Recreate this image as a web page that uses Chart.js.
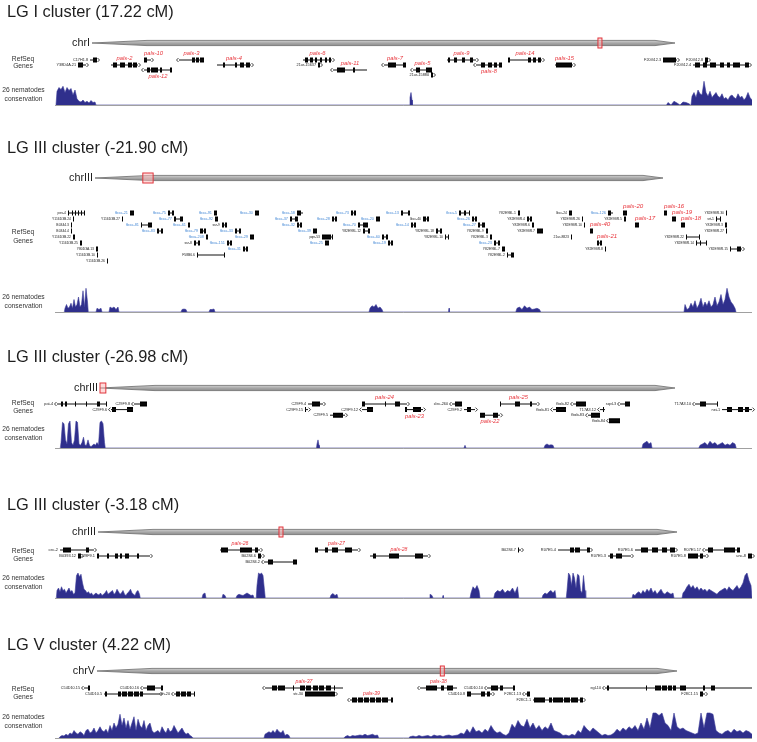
<!DOCTYPE html>
<html>
<head>
<meta charset="utf-8">
<script src="https://cdn.jsdelivr.net/npm/chart.js"></script>
<style>
  body { margin: 0; background: #fff; width: 757px; height: 742px; position: relative; overflow: hidden; }
  canvas { position: absolute; left: 0; }
</style>
</head>
<body>
<canvas id="c0"></canvas>
<canvas id="c1"></canvas>
<canvas id="c2"></canvas>
<canvas id="c3"></canvas>
<canvas id="c4"></canvas>
<script>
// ---- data ----
const panelTitles = ['LG I cluster (17.22 cM)', 'LG III cluster (-21.90 cM)', 'LG III cluster (-26.98 cM)',
                     'LG III cluster (-3.18 cM)', 'LG V cluster (4.22 cM)'];
const chromNames = ['chrI', 'chrIII', 'chrIII', 'chrIII', 'chrV'];
const chromLengthsMb = [15.07, 13.78, 13.78, 13.78, 20.92];
const regionStartMb = [13.08, 1.16, 0.0, 4.31, 12.41];
const regionEndMb = [13.18, 1.41, 0.14, 4.40, 12.50];
const viewRange = [0, 697];

// gene: [name, row, start, end, exons(start,end,...), kind, strand]
// kind: k = gene, f = F-box gene, p = pals gene (label above), q = pals gene (label below)
const p1Genes = [
  ['C17H1.8', 0, 35, 42, [38, 42], 'k', '+'],
  ['Y38D4A.21', 1, 23, 31, [23, 28], 'k', '+'],
  ['pals-2', 1, 56, 83, [58, 62, 65, 70, 73, 77, 78, 82], 'p', '+'],
  ['pals-10', 0, 89, 96, [89, 92], 'p', '+'],
  ['pals-12', 2, 89, 117, [92, 95, 96, 103, 105, 107, 115, 117], 'q', '-'],
  ['pals-3', 0, 124, 149, [137, 140, 141, 144, 145, 149], 'p', '-'],
  ['pals-4', 1, 162, 196, [168, 170, 180, 182, 185, 189, 191, 195], 'p', '+'],
  ['pals-6', 0, 248, 277, [250, 253, 255, 258, 260, 262, 265, 267, 270, 272, 274, 276], 'p', '+'],
  ['21ur-15637', 1, 263, 265, [263, 265], 'k', '+'],
  ['pals-11', 2, 278, 312, [282, 290, 298, 300], 'p', '-'],
  ['pals-7', 1, 329, 351, [333, 341, 348, 351], 'p', '-'],
  ['pals-5', 2, 358, 377, [361, 365, 371, 377], 'p', '-'],
  ['21ur-15880', 3, 376, 378, [376, 378], 'k', '+'],
  ['pals-9', 0, 392, 421, [393, 395, 399, 402, 407, 410, 415, 418], 'p', '+'],
  ['pals-8', 1, 421, 447, [426, 430, 433, 437, 439, 442, 444, 447], 'q', '-'],
  ['pals-14', 0, 453, 487, [453, 455, 473, 476, 478, 481, 483, 486], 'p', '+'],
  ['pals-15', 1, 500, 518, [501, 517], 'p', '+'],
  ['F20G12.3', 0, 608, 622, [608, 621], 'k', '+'],
  ['F20G12.8', 0, 650, 653, [650, 653], 'k', '+'],
  ['F20G12.4', 1, 638, 694, [640, 645, 648, 652, 655, 661, 665, 669, 672, 675, 678, 685, 690, 694], 'k', '+']
];

const p2Genes = [
  ['pes-4', 0, 13, 30, [13, 14, 17, 18, 20, 21, 23, 24, 26, 27, 29, 30], 'k'],
  ['fbxa-21', 0, 75, 79, [75, 79], 'f'],
  ['fbxa-75', 0, 113, 119, [113, 115, 117, 119], 'f'],
  ['fbxa-91', 0, 159, 162, [159, 162], 'f'],
  ['fbxa-30', 0, 200, 204, [200, 204], 'f'],
  ['fbxa-58', 0, 242, 248, [242, 246], 'f'],
  ['fbxa-73', 0, 296, 301, [296, 298, 299, 301], 'f'],
  ['fbxa-13', 0, 346, 355, [346, 348, 353, 355], 'f'],
  ['fbxa-5', 0, 404, 415, [404, 406, 409, 411, 414, 415], 'f'],
  ['Y82E9BL.1', 0, 463, 465, [463, 465], 'k'],
  ['lbcc-24', 0, 514, 517, [514, 517], 'k'],
  ['fbxa-126', 0, 553, 558, [553, 556], 'f'],
  ['pals-20', 0, 568, 572, [568, 572], 'p'],
  ['pals-16', 0, 609, 612, [609, 612], 'p'],
  ['Y82E9BR.30', 0, 671, 672, [671, 672], 'k'],
  ['Y116D3B.24', 1, 18, 19, [18, 19], 'k'],
  ['Y116D3B.27', 1, 67, 68, [67, 68], 'k'],
  ['fbxa-77', 1, 119, 128, [119, 121, 125, 128], 'f'],
  ['fbxa-92', 1, 160, 163, [160, 163], 'f'],
  ['fbxa-37', 1, 235, 243, [235, 237, 240, 243], 'f'],
  ['fbxa-28', 1, 277, 282, [277, 279, 280, 282], 'f'],
  ['fbxa-20', 1, 321, 325, [321, 325], 'f'],
  ['lbcc-40', 1, 368, 374, [368, 371, 372, 374], 'k'],
  ['fbxa-26', 1, 417, 422, [417, 419, 420, 422], 'f'],
  ['Y82E9BR.4', 1, 472, 477, [472, 474, 475, 477], 'k'],
  ['Y82E9BR.26', 1, 527, 528, [527, 528], 'k'],
  ['Y82E9BR.5', 1, 569, 571, [569, 571], 'k'],
  ['pals-19', 1, 617, 621, [617, 621], 'p'],
  ['srt-1', 1, 661, 666, [661, 662, 665, 666], 'k'],
  ['B0344.3', 2, 16, 17, [16, 17], 'k'],
  ['fbxa-81', 2, 86, 97, [86, 87, 93, 97], 'f'],
  ['fbxa-61', 2, 133, 135, [133, 135], 'f'],
  ['srz-9', 2, 167, 172, [167, 169, 170, 172], 'k'],
  ['fbxa-32', 2, 242, 247, [242, 244, 245, 247], 'f'],
  ['fbxa-70', 2, 303, 313, [303, 305, 308, 313], 'f'],
  ['fbxa-14', 2, 356, 361, [356, 358, 359, 361], 'f'],
  ['fbxa-27', 2, 423, 430, [423, 425, 427, 430], 'f'],
  ['Y82E9BR.6', 2, 477, 479, [477, 479], 'k'],
  ['Y82E9BR.10', 2, 529, 530, [529, 530], 'k'],
  ['pals-17', 2, 580, 584, [580, 584], 'p'],
  ['pals-18', 2, 626, 630, [626, 630], 'p'],
  ['Y82E9BR.3', 2, 670, 672, [670, 672], 'k'],
  ['B0344.4', 3, 16, 17, [16, 17], 'k'],
  ['fbxa-83', 3, 102, 108, [102, 104, 106, 108], 'f'],
  ['fbxa-79', 3, 145, 151, [145, 148, 149, 151], 'f'],
  ['fbxa-33', 3, 180, 186, [180, 182, 184, 186], 'f'],
  ['fbxa-39', 3, 258, 262, [258, 262], 'f'],
  ['Y82E9BL.12', 3, 308, 315, [308, 310, 313, 315], 'k'],
  ['Y82E9BL.18', 3, 381, 387, [381, 383, 385, 387], 'k'],
  ['Y82E9BL.9', 3, 431, 433, [431, 433], 'k'],
  ['Y82E9BR.7', 3, 482, 488, [482, 488], 'k'],
  ['pals-40', 3, 535, 538, [535, 538], 'p'],
  ['Y82E9BR.27', 3, 671, 672, [671, 672], 'k'],
  ['Y116D3B.22', 4, 18, 20, [18, 20], 'k'],
  ['fbxa-208', 4, 151, 153, [151, 153], 'f'],
  ['fbxa-29', 4, 195, 199, [195, 199], 'f'],
  ['pqn-53', 4, 267, 278, [267, 276, 277, 278], 'k'],
  ['fbxa-60', 4, 327, 333, [327, 329, 331, 333], 'f'],
  ['Y82E9BL.10', 4, 390, 394, [390, 391, 393, 394], 'k'],
  ['Y82E9BL.3', 4, 435, 437, [435, 437], 'k'],
  ['21ur-8823', 4, 516, 517, [516, 517], 'k'],
  ['Y82E9BR.22', 4, 631, 645, [631, 632, 644, 645], 'k'],
  ['Y116D3B.25', 5, 25, 27, [25, 27], 'k'],
  ['srz-8', 5, 139, 145, [139, 141, 143, 145], 'k'],
  ['fbxa-151', 5, 172, 177, [172, 174, 175, 177], 'f'],
  ['fbxa-25', 5, 270, 274, [270, 274], 'f'],
  ['fbxa-19', 5, 333, 338, [333, 335, 336, 338], 'f'],
  ['fbxa-23', 5, 439, 445, [439, 441, 443, 445], 'f'],
  ['pals-21', 5, 542, 547, [542, 544, 545, 547], 'p'],
  ['Y82E9BR.14', 5, 641, 652, [641, 642, 645, 646, 651, 652], 'k'],
  ['Y80D3A.13', 6, 41, 43, [41, 43], 'k'],
  ['fbxa-31', 6, 188, 193, [188, 190, 191, 193], 'f'],
  ['Y82E9BL.7', 6, 447, 450, [447, 450], 'k'],
  ['Y82E9BR.8', 6, 550, 551, [550, 551], 'k'],
  ['Y82E9BR.15', 6, 675, 687, [675, 676, 682, 686], 'k', '+'],
  ['Y116D3B.10', 7, 42, 43, [42, 43], 'k'],
  ['F58B6.6', 7, 142, 170, [142, 143, 169, 170], 'k'],
  ['Y82E9BL.2', 7, 452, 459, [452, 453, 456, 459], 'k'],
  ['Y116D3B.26', 8, 52, 53, [52, 53], 'k']
];

const p3Genes = [
  ['pat-4', 0, 2, 52, [6, 8, 10, 12, 20, 21, 31, 32, 42, 45, 51, 52], 'k', '-'],
  ['C29F9.6', 1, 56, 78, [57, 61, 72, 78], 'k', '-'],
  ['C29F9.8', 0, 79, 92, [85, 92], 'k', '-'],
  ['C29F9.4', 0, 253, 268, [257, 265], 'k', '+'],
  ['C29F9.15', 1, 250, 253, [250, 251], 'k', '+'],
  ['C29F9.5', 2, 275, 290, [278, 288], 'k', '+'],
  ['pals-24', 0, 307, 352, [307, 310, 330, 331, 340, 345], 'p', '+'],
  ['C29F9.12', 1, 307, 318, [312, 318], 'k', '-'],
  ['pals-23', 1, 350, 368, [350, 352, 358, 366], 'q', '+'],
  ['clec-260', 0, 397, 407, [400, 407], 'k', '-'],
  ['C29F9.2', 1, 409, 420, [412, 416], 'k', '+'],
  ['pals-22', 2, 425, 445, [425, 430, 438, 443], 'q', '+'],
  ['pals-25', 0, 445, 482, [445, 446, 460, 465, 475, 477], 'p', '+'],
  ['fbxb-82', 0, 518, 531, [521, 531], 'k', '-'],
  ['fbxb-81', 1, 498, 511, [501, 511], 'k', '-'],
  ['T17A3.12', 1, 545, 550, [548, 549], 'k', '-'],
  ['fbxb-83', 2, 533, 545, [536, 545], 'k', '-'],
  ['fbxb-84', 3, 554, 565, [554, 565], 'k', '-'],
  ['sqvl-3', 0, 565, 575, [570, 575], 'k', '-'],
  ['T17A3.10', 0, 640, 663, [645, 651, 662, 663], 'k', '-'],
  ['nei-1', 1, 667, 697, [672, 677, 683, 688, 690, 694], 'k', '+']
];

const p4Genes = [
  ['cec-2', 0, 5, 39, [8, 16, 31, 34], 'k', '+'],
  ['B0393.12', 1, 23, 26, [23, 26], 'k', '+'],
  ['C29F9.1', 1, 42, 95, [42, 44, 52, 54, 60, 63, 65, 67, 70, 74, 82, 84], 'k', '+'],
  ['pals-26', 0, 165, 205, [166, 173, 185, 197, 200, 203], 'p', '+'],
  ['B0284.6', 1, 203, 207, [203, 206], 'k', '+'],
  ['B0284.2', 2, 209, 241, [213, 218, 238, 242], 'k', '-'],
  ['pals-27', 0, 260, 303, [260, 263, 270, 273, 277, 283, 290, 297], 'p', '+'],
  ['pals-28', 1, 315, 373, [318, 321, 334, 344, 360, 368], 'p', '+'],
  ['B0284.7', 0, 463, 466, [463, 464], 'k', '+'],
  ['R07E5.4', 0, 503, 535, [515, 519, 520, 525, 532, 535], 'k', '+'],
  ['R07E5.3', 1, 553, 576, [555, 558, 561, 567], 'k', '+'],
  ['R07E5.6', 0, 580, 620, [586, 593, 597, 603, 607, 612, 615, 620], 'k', '+'],
  ['R07E5.8', 1, 633, 651, [633, 643, 645, 648], 'k', '+'],
  ['R07E5.17', 0, 650, 685, [653, 658, 669, 680, 682, 685], 'k', '-'],
  ['unc-8', 1, 693, 697, [693, 697], 'k', '+']
];

const p5Genes = [
  ['C54D10.15', 0, 29, 35, [33, 35], 'k', '-'],
  ['C54D10.5', 1, 49, 105, [50, 52, 63, 66, 67, 72, 73, 78, 79, 84, 85, 88], 'k', '+'],
  ['C54D10.16', 0, 88, 108, [92, 100, 106, 108], 'k', '-'],
  ['srh-20', 1, 119, 140, [121, 125, 126, 131, 132, 136, 139, 140], 'k', '-'],
  ['pals-37', 0, 210, 288, [217, 222, 223, 230, 238, 239, 245, 250, 251, 256, 258, 263, 264, 269, 271, 276, 279, 280], 'p', '-'],
  ['str-30', 1, 250, 280, [250, 280], 'k', '+'],
  ['pals-39', 2, 295, 338, [297, 302, 303, 308, 309, 314, 315, 320, 321, 326, 327, 333, 336, 338], 'p', '-'],
  ['pals-38', 0, 365, 402, [371, 382, 386, 389, 392, 398], 'p', '-'],
  ['C54D10.10', 0, 432, 460, [436, 443, 445, 448, 458, 460], 'k', '-'],
  ['C54D10.8', 1, 412, 437, [412, 416, 426, 430, 432, 435], 'k', '+'],
  ['F28C1.13', 1, 470, 475, [472, 475], 'k', '-'],
  ['F28C1.1', 2, 478, 528, [479, 490, 494, 497, 498, 508, 509, 515, 516, 523, 525, 528], 'k', '+'],
  ['egl-10', 0, 550, 697, [552, 554, 591, 592, 600, 606, 607, 612, 613, 617, 618, 621, 625, 631, 648, 650, 656, 660], 'k', '-'],
  ['F28C1.15', 1, 645, 650, [645, 648], 'k', '+']
];

// conservation: [first position, spacing, scores 0..1]
const p1Cons = [
  [2, 2, [0.55, 0.7, 0.62, 0.75, 0.5, 0.7, 0.58, 0.66, 0.4, 0.6, 0.25, 0.15, 0.12, 0.2, 0.1, 0.15, 0.08, 0.18, 0.1, 0.12]],
  [355, 1, [0.3, 0.5, 0.2]],
  [613, 3, [0.1, 0, 0.15, 0.08, 0, 0.12, 0.1, 0.05]],
  [637, 2, [0.35, 0.5, 0.3, 0.6, 0.45, 0.4, 0.95, 0.5, 0.35, 0.55, 0.3, 0.4, 0.5, 0.35, 0.3, 0.45, 0.25, 0.3, 0.2, 0.35,
            0.4, 0.3, 0.25, 0.45, 0.3, 0.35, 0.2, 0.3, 0.5, 0.3, 0.2]]
];
const p2Cons = [
  [10, 1.5, [0.15, 0.3, 0.15, 0.2, 0.35, 0.15, 0.5, 0.2, 0.3, 0.6, 0.2, 0.3, 0.85, 0.2, 0.95, 0.4]],
  [42, 2, [0.15, 0.1, 0.15]],
  [55, 2, [0.2, 0.15, 0.2, 0.1, 0.2]],
  [127, 2, [0.1, 0.12, 0.1]],
  [155, 2, [0.1, 0.1, 0.12]],
  [315, 2, [0.15, 0.25, 0.2, 0.3, 0.15, 0.2, 0.1]],
  [394, 1, [0.15]],
  [462, 2.5, [0.15, 0.2, 0.1, 0.25, 0.15, 0.2, 0.1, 0.12, 0.15, 0.1]],
  [630, 2, [0.3, 0.1, 0.15, 0.35, 0.2, 0.45, 0.15, 0.3, 0.55, 0.2, 0.4, 0.25, 0.45, 0.2, 0.3, 0.6, 0.25, 0.4, 0.7, 0.3,
            0.5, 0.95, 0.6, 0.4, 0.3, 0.15]]
];
const p3Cons = [
  [6, 1.5, [0.2, 0.95, 0.9, 0.3, 0.15, 0.9, 1.0, 0.2, 0.1, 0.3, 1.0, 0.95, 0.15, 0.1, 0.2, 0.4, 0.1, 0.1, 0.3, 0.1,
            0.05, 0.1, 0.15, 0.1, 0.2, 0.1, 0.95, 1.0, 0.9, 0.2]],
  [262, 1, [0.15, 0.3, 0.1]],
  [410, 2, [0.1]],
  [490, 2, [0.1, 0.15, 0.1, 0.12, 0.1]],
  [588, 2, [0.15, 0.2, 0.25, 0.15, 0.2]],
  [645, 2.5, [0.1, 0.15, 0.2, 0.1, 0.25, 0.15, 0.2, 0.1, 0.15, 0.2, 0.1, 0.15, 0.1, 0.2, 0.15]]
];
const p4Cons = [
  [2, 1.5, [0.3, 0.4, 0.25, 0.45, 0.3, 0.35, 0.2, 0.3, 0.4, 0.25, 0.3, 0.15, 0.2, 0.9, 1.0, 0.85, 0.95, 0.6, 0.35, 0.3,
            0.2, 0.25, 0.15, 0.2, 0.1, 0.15, 0.2, 0.15, 0.12, 0.2, 0.1, 0.15, 0.2, 0.3, 0.15, 0.2, 0.25, 0.3, 0.15, 0.2,
            0.35, 0.25, 0.15, 0.2, 0.3, 0.15, 0.1, 0.2, 0.25, 0.35, 0.2, 0.15, 0.1, 0.25, 0.3, 0.15]],
  [148, 2, [0.15, 0.2]],
  [168, 2, [0.15, 0.1]],
  [182, 2, [0.1, 0.15, 0.12, 0.1, 0.15, 0.2, 0.15, 0.1, 0.12]],
  [202, 1.5, [0.5, 1.0, 0.95, 1.0, 0.9, 0.3]],
  [276, 2, [0.12, 0.18, 0.1, 0.15]],
  [375, 2, [0.15, 0.1]],
  [388, 1, [0.1]],
  [416, 2, [0.2, 0.45, 0.35, 0.5, 0.3]],
  [440, 2.5, [0.2, 0.3, 0.25, 0.35, 0.2, 0.3, 0.25, 0.4, 0.2, 0.45]],
  [488, 2, [0.12, 0.2, 0.15, 0.25, 0.3, 0.2, 0.3]],
  [512, 1.5, [0.3, 1.0, 0.9, 0.5, 1.0, 0.8, 0.4, 0.95, 0.9, 0.3, 0.2, 0.9, 0.3]],
  [578, 2, [0.15, 0.1, 0.2, 0.25, 0.15, 0.3, 0.2, 0.35, 0.25, 0.4, 0.2, 0.3, 0.15, 0.25, 0.35, 0.2, 0.15, 0.25, 0.2, 0.15,
            0.2]],
  [628, 2, [0.2, 0.3, 0.45, 0.55, 0.4, 0.5, 0.35, 0.45, 0.3, 0.4, 0.3, 0.35, 0.25, 0.35, 0.3, 0.25, 0.2, 0.15, 0.25, 0.3,
            0.35, 0.4, 0.3, 0.45, 0.35, 0.3, 0.4, 0.5, 0.35, 0.45, 0.6, 0.9, 1.0, 0.7, 0.5]]
];
const p5Cons = [
  [5, 2, [0.05, 0.1, 0.08, 0.15, 0.1, 0.2, 0.15, 0.3, 0.2, 0.15, 0.25, 0.2, 0.1, 0.3, 0.35, 0.2, 0.25, 0.4, 0.2, 0.3,
          0.45, 0.3, 0.25, 0.35, 0.2, 0.5, 0.3, 0.6, 0.4, 0.55, 0.95, 0.5, 0.8, 0.4, 0.7, 0.35, 0.6, 0.85, 0.3, 0.75,
          0.5, 0.4, 0.7, 0.3, 0.5, 0.6, 0.3, 0.2, 0.25, 0.3, 0.2, 0.45, 0.3, 0.2, 0.4, 0.25, 0.3, 0.5, 0.35, 0.2,
          0.3, 0.4, 0.25, 0.15, 0.2, 0.1, 0.05]],
  [210, 2, [0.15, 0.2, 0.25, 0.2, 0.3, 0.2, 0.35, 0.25, 0.2, 0.3, 0.1, 0.15, 0.1]],
  [290, 2.5, [0.05, 0.1, 0.05, 0.1, 0.08, 0.1, 0.12, 0.1, 0.15, 0.1, 0.12, 0.15, 0.1, 0.12]],
  [355, 3, [0.05, 0.08, 0.05, 0.1, 0.06, 0.08, 0.1, 0.05, 0.12, 0.08, 0.1, 0.06, 0.1, 0.12, 0.08, 0.1, 0.12,
            0.2, 0.15, 0.35, 0.2, 0.45, 0.25, 0.3,
            0.2, 0.35, 0.25, 0.5, 0.3, 0.2, 0.25,
            0.15, 0.1, 0.2,
            0.55, 0.4, 0.7, 0.5, 0.45, 0.75, 0.4, 0.6, 0.35, 0.5,
            0.3, 0.45, 0.35, 0.6, 0.3, 0.25, 0.2,
            0.1, 0.12, 0.08, 0.15, 0.1,
            0.3, 0.2, 0.5, 0.35, 0.25, 0.4, 0.3, 0.2,
            0.1, 0.15, 0.1, 0.12,
            0.2, 0.35, 0.25, 0.4, 0.3, 0.45, 0.35, 0.5, 0.3,
            0.6, 0.35, 0.8, 0.4,
            1.0, 1.0, 0.9, 1.0, 0.6,
            0.5, 0.3, 1.0, 0.45,
            0.35, 0.4, 0.3, 0.25, 0.2, 0.15, 0.2,
            1.0, 0.4, 1.0, 1.0, 0.95, 0.3,
            0.2, 0.15, 0.25, 0.3, 0.2, 0.35, 0.25, 0.3, 0.2, 0.3, 0.25, 0.15]]
];

const panelGenes = [p1Genes, p2Genes, p3Genes, p4Genes, p5Genes];
const panelCons = [p1Cons, p2Cons, p3Cons, p4Cons, p5Cons];

// ---- layout (page pixels) and text sizes ----
const panelLayout = [
  { top: 0,   height: 110, chrY: 43,  ideo: [92, 675],  rowY: 60,  rowGap: 5,   base: 105, consH: 25, refY: [59, 66],   consLabY: [90, 99],   nameFont: 3.8, palsFont: 5.8 },
  { top: 136, height: 180, chrY: 178, ideo: [95, 663],  rowY: 213, rowGap: 6,   base: 312, consH: 25, refY: [232, 241], consLabY: [297, 306], nameFont: 3.4, palsFont: 6.2 },
  { top: 345, height: 108, chrY: 388, ideo: [100, 675], rowY: 404, rowGap: 5.6, base: 448, consH: 27, refY: [403, 411], consLabY: [429, 438], nameFont: 3.8, palsFont: 5.8 },
  { top: 493, height: 110, chrY: 532, ideo: [98, 677],  rowY: 550, rowGap: 6,   base: 598, consH: 25, refY: [551, 559], consLabY: [578, 587], nameFont: 3.9, palsFont: 5.2 },
  { top: 633, height: 109, chrY: 671, ideo: [97, 677],  rowY: 688, rowGap: 6,   base: 738, consH: 25, refY: [689, 697], consLabY: [717, 726], nameFont: 3.8, palsFont: 5.2 }
];
const PLOT_LEFT = 55, PLOT_RIGHT = 752, TITLE_H = 24;
const FONT = "'Liberation Sans', Arial, Helvetica, sans-serif";

function intronData(genes) {
  const out = [];
  genes.forEach(g => out.push({ x: g[2], y: g[1] }, { x: g[3], y: g[1] }, { x: g[3], y: null }));
  return out;
}
function exonData(genes) {
  const out = [];
  genes.forEach(g => {
    const ex = g[4];
    for (let i = 0; i < ex.length; i += 2) {
      out.push({ x: ex[i], y: g[1] }, { x: ex[i + 1], y: g[1] }, { x: ex[i + 1], y: null });
    }
  });
  return out;
}
function consData(regions) {
  const out = [];
  regions.forEach(([start, step, vals]) => {
    out.push({ x: start - step / 2, y: 0 });
    vals.forEach((v, i) => out.push({ x: start + i * step, y: v }));
    out.push({ x: start + (vals.length - 1) * step + step / 2, y: 0 });
  });
  return out;
}

const trackPlugin = {
  id: 'tracks',
  beforeDatasetsDraw(chart) {
    const p = chart.options.plugins.tracks;
    const ctx = chart.ctx;
    const xc = chart.scales.xc;
    const L = xc.getPixelForValue(0), R = xc.getPixelForValue(p.len);
    const cy = p.chrY - p.top, h = 2.6;
    ctx.save();
    ctx.beginPath();
    ctx.moveTo(L, cy);
    ctx.lineTo(L + 55, cy - h);
    ctx.lineTo(R - 20, cy - h);
    ctx.lineTo(R, cy);
    ctx.lineTo(R - 20, cy + h);
    ctx.lineTo(L + 55, cy + h);
    ctx.closePath();
    const grad = ctx.createLinearGradient(0, cy - h, 0, cy + h);
    grad.addColorStop(0, '#d2d2d2');
    grad.addColorStop(0.5, '#a8a8a8');
    grad.addColorStop(1, '#8e8e8e');
    ctx.fillStyle = grad;
    ctx.fill();
    ctx.strokeStyle = '#6a6a6a';
    ctx.lineWidth = 0.8;
    ctx.stroke();
    // highlighted region
    let x0 = xc.getPixelForValue(p.regStart), x1 = xc.getPixelForValue(p.regEnd);
    if (x1 - x0 < 4) { const m = (x0 + x1) / 2; x0 = m - 2; x1 = m + 2; }
    ctx.fillStyle = 'rgba(255,190,190,0.55)';
    ctx.fillRect(x0, cy - 5, x1 - x0, 10);
    ctx.strokeStyle = '#e0353c';
    ctx.lineWidth = 1;
    ctx.strokeRect(x0, cy - 5, x1 - x0, 10);
    // chromosome name
    ctx.fillStyle = '#222';
    ctx.font = '10.8px ' + FONT;
    ctx.textAlign = 'right';
    ctx.textBaseline = 'middle';
    ctx.fillText(p.chrom, L - 2, cy);
    ctx.restore();
  },
  afterDatasetsDraw(chart) {
    const p = chart.options.plugins.tracks;
    const ctx = chart.ctx;
    const x = chart.scales.x, y = chart.scales.y, yc = chart.scales.yc;
    ctx.save();
    // baseline of conservation track
    const by = Math.round(yc.getPixelForValue(0)) + 0.5;
    ctx.strokeStyle = '#a0a0a0';
    ctx.lineWidth = 1;
    ctx.beginPath();
    ctx.moveTo(chart.chartArea.left, by);
    ctx.lineTo(chart.chartArea.right, by);
    ctx.stroke();
    // strand arrows and labels
    p.genes.forEach(g => {
      const [name, row, s, e, , kind, strand] = g;
      const sx = x.getPixelForValue(s), ex = x.getPixelForValue(e), gy = y.getPixelForValue(row);
      if (strand) {
        ctx.strokeStyle = '#111';
        ctx.lineWidth = 0.8;
        ctx.beginPath();
        if (strand === '+') { ctx.moveTo(ex + 0.5, gy - 2); ctx.lineTo(ex + 2.5, gy); ctx.lineTo(ex + 0.5, gy + 2); }
        else { ctx.moveTo(sx - 0.5, gy - 2); ctx.lineTo(sx - 2.5, gy); ctx.lineTo(sx - 0.5, gy + 2); }
        ctx.stroke();
      }
      ctx.textBaseline = 'middle';
      if (kind === 'p' || kind === 'q') {
        ctx.font = 'italic ' + p.palsFont + 'px ' + FONT;
        ctx.fillStyle = '#e8353c';
        const w = ctx.measureText(name).width;
        const cx = Math.max((sx + ex) / 2, sx + w / 2);
        ctx.textAlign = 'center';
        ctx.fillText(name, cx, kind === 'p' ? gy - 6.3 : gy + 6.3);
      } else {
        ctx.font = (kind === 'f' ? p.nameFont + 0.5 : p.nameFont) + 'px ' + FONT;
        ctx.fillStyle = kind === 'f' ? '#4f8fd8' : '#222';
        ctx.textAlign = 'right';
        ctx.fillText(name, sx - (strand === '-' ? 4 : 2), gy);
      }
    });
    // track names
    ctx.fillStyle = '#333';
    ctx.font = '6.7px ' + FONT;
    ctx.textAlign = 'center';
    ctx.textBaseline = 'middle';
    ctx.fillText('RefSeq', 23, p.refY[0] - p.top);
    ctx.fillText('Genes', 23, p.refY[1] - p.top);
    ctx.fillText('26 nematodes', 23.5, p.consLabY[0] - p.top);
    ctx.fillText('conservation', 23.5, p.consLabY[1] - p.top);
    ctx.restore();
  }
};

panelTitles.forEach((title, i) => {
  const lay = panelLayout[i];
  const canvas = document.getElementById('c' + i);
  canvas.width = 757; canvas.height = lay.height;
  canvas.style.top = lay.top + 'px';
  const areaH = lay.height - TITLE_H;
  // row axis (reversed): row 0 sits at lay.rowY
  const rowMin = -(lay.rowY - lay.top - TITLE_H) / lay.rowGap;
  const rowMax = rowMin + areaH / lay.rowGap;
  // conservation axis: 0 at baseline, 1 = consH pixels
  const cMin = -(lay.top + lay.height - lay.base) / lay.consH;
  const cMax = (lay.base - lay.top - TITLE_H) / lay.consH;
  // chromosome axis: ideogram spans lay.ideo
  const len = chromLengthsMb[i];
  const perPx = len / (lay.ideo[1] - lay.ideo[0]);
  const xcMin = -(lay.ideo[0] - PLOT_LEFT) * perPx;
  const xcMax = len + (PLOT_RIGHT - lay.ideo[1]) * perPx;

  new Chart(canvas, {
    type: 'line',
    data: {
      datasets: [
        { data: intronData(panelGenes[i]), borderColor: '#111', borderWidth: 1, pointRadius: 0, spanGaps: false, yAxisID: 'y' },
        { data: exonData(panelGenes[i]), borderColor: '#000', borderWidth: 5, borderCapStyle: 'butt', pointRadius: 0, spanGaps: false, yAxisID: 'y' },
        { data: consData(panelCons[i]), yAxisID: 'yc', borderColor: '#3b3b98', borderWidth: 0.6, backgroundColor: '#2f2f8c',
          fill: 'origin', pointRadius: 0, tension: 0 }
      ]
    },
    options: {
      responsive: false,
      animation: false,
      events: [],
      layout: { padding: { left: 7, right: 757 - PLOT_RIGHT, top: 0, bottom: 0 } },
      scales: {
        x: { type: 'linear', min: viewRange[0], max: viewRange[1], display: false },
        xc: { type: 'linear', axis: 'x', min: xcMin, max: xcMax, display: false },
        y: { type: 'linear', reverse: true, min: rowMin, max: rowMax, position: 'left',
             ticks: { display: false }, grid: { display: false }, border: { display: false },
             afterFit: s => { s.width = PLOT_LEFT - 7; } },
        yc: { type: 'linear', axis: 'y', min: cMin, max: cMax, display: false }
      },
      plugins: {
        legend: { display: false },
        tooltip: { enabled: false },
        title: { display: true, text: title, align: 'start', color: '#1e1e1e',
                 font: { family: FONT, size: 16.4, weight: 'normal', lineHeight: 1 }, padding: { top: 3.8, bottom: 3.8 } },
        tracks: { top: lay.top, chrY: lay.chrY, chrom: chromNames[i], len: len,
                  regStart: regionStartMb[i], regEnd: regionEndMb[i], genes: panelGenes[i],
                  refY: lay.refY, consLabY: lay.consLabY, nameFont: lay.nameFont, palsFont: lay.palsFont }
      }
    },
    plugins: [trackPlugin]
  });
});
</script>
</body>
</html>
